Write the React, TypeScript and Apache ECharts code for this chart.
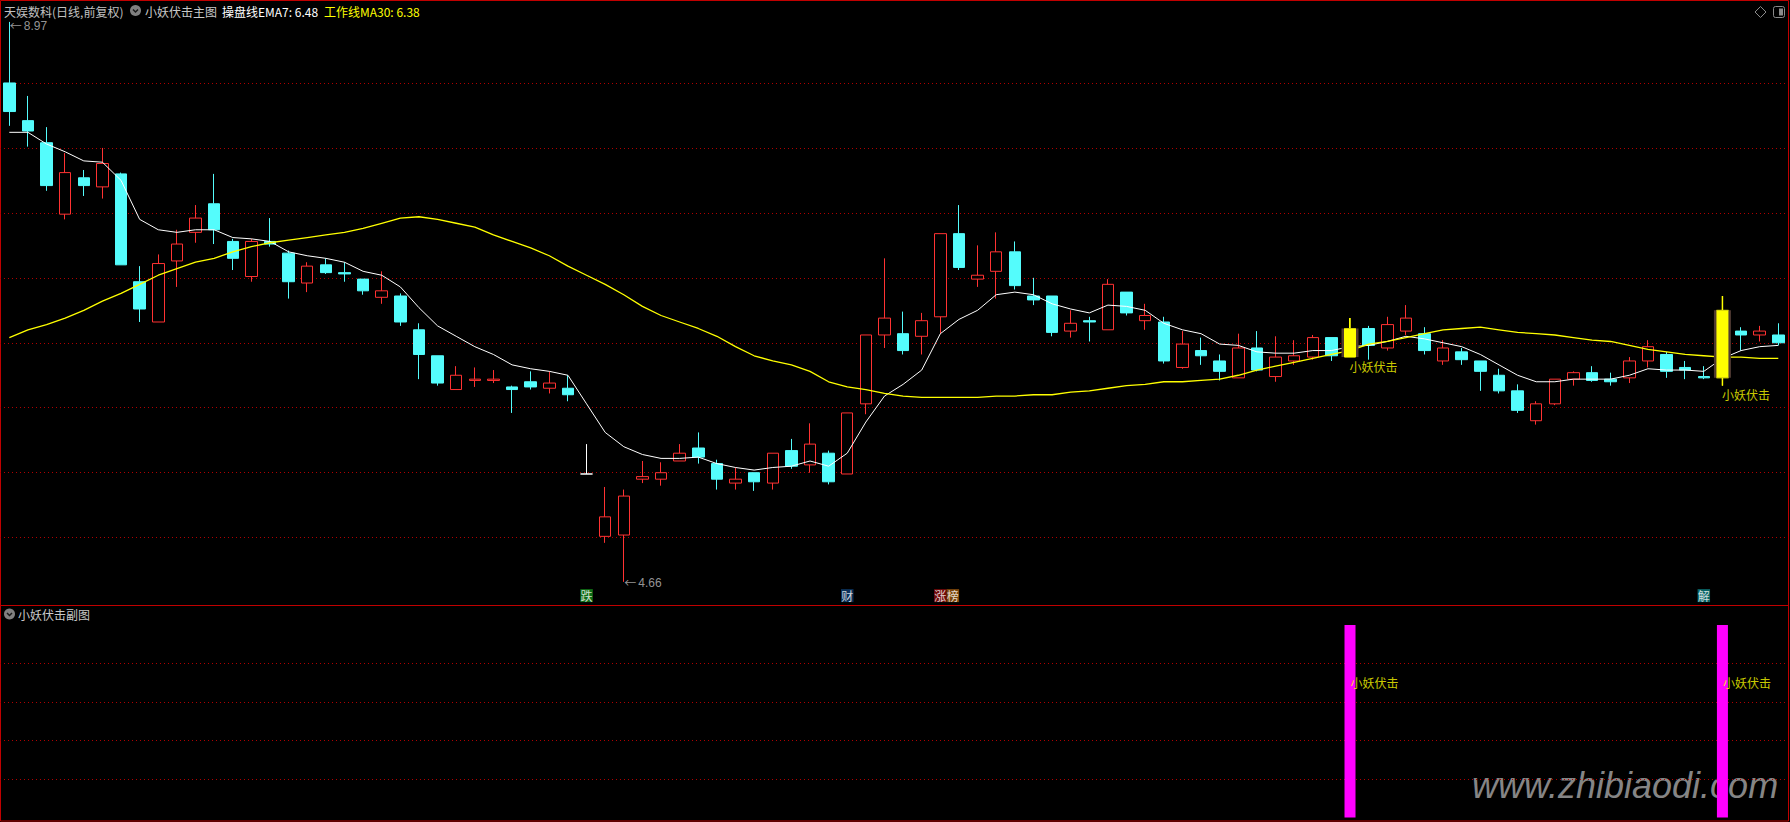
import React, { useEffect, useRef } from "react";
import * as echarts from "echarts";

// ---- data ----
const openP = [
  8.50, 8.21, 8.04, 7.49, 7.77, 7.70, 7.80, 6.97, 6.66, 7.13,
  7.35, 7.57, 7.28, 7.01, 7.28, 7.19, 6.96, 7.10, 7.04, 6.99,
  6.85, 6.86, 6.60, 6.40, 6.14, 6.21, 6.21, 6.16, 6.20, 6.15,
  6.15, 5.49, 5.01, 5.02, 5.45, 5.45, 5.59, 5.69, 5.57, 5.42,
  5.50, 5.42, 5.67, 5.56, 5.65, 5.49, 6.03, 6.56, 6.57, 6.55,
  6.70, 7.34, 6.99, 7.05, 7.20, 6.86, 6.86, 6.59, 6.67, 6.60,
  6.89, 6.67, 6.66, 6.31, 6.44, 6.36, 6.23, 6.46, 6.24, 6.36,
  6.39, 6.54, 6.39, 6.61, 6.46, 6.59, 6.57, 6.36, 6.43, 6.36,
  6.25, 6.13, 5.90, 6.03, 6.22, 6.27, 6.22, 6.23, 6.36, 6.41,
  6.31, 6.24, 6.23, 6.59, 6.56, 6.56,
];
const closeP = [
  8.28, 8.13, 7.71, 7.81, 7.71, 7.88, 7.10, 6.76, 7.11, 7.26,
  7.46, 7.37, 7.15, 7.28, 7.26, 6.97, 7.09, 7.04, 7.03, 6.90,
  6.90, 6.66, 6.41, 6.19, 6.25, 6.22, 6.22, 6.14, 6.16, 6.19,
  6.10, 5.49, 5.16, 5.32, 5.47, 5.50, 5.65, 5.62, 5.45, 5.45,
  5.43, 5.65, 5.55, 5.72, 5.43, 5.96, 6.56, 6.69, 6.44, 6.67,
  7.34, 7.08, 7.02, 7.20, 6.94, 6.83, 6.58, 6.65, 6.66, 6.95,
  6.73, 6.71, 6.36, 6.49, 6.40, 6.28, 6.46, 6.29, 6.39, 6.40,
  6.54, 6.40, 6.61, 6.48, 6.64, 6.69, 6.44, 6.46, 6.37, 6.28,
  6.13, 5.98, 6.03, 6.22, 6.27, 6.21, 6.20, 6.36, 6.47, 6.28,
  6.29, 6.23, 6.75, 6.56, 6.59, 6.50,
];
const lowP = [
  8.17, 8.01, 7.67, 7.45, 7.63, 7.61, 7.10, 6.66, 6.66, 6.93,
  7.27, 7.26, 7.06, 6.97, 7.24, 6.84, 6.89, 7.03, 6.97, 6.87,
  6.80, 6.63, 6.22, 6.17, 6.14, 6.16, 6.19, 5.96, 6.14, 6.11,
  6.05, 5.49, 4.96, 4.66, 5.42, 5.40, 5.59, 5.57, 5.37, 5.37,
  5.36, 5.37, 5.53, 5.50, 5.41, 5.49, 5.95, 6.46, 6.41, 6.41,
  6.57, 7.06, 6.93, 6.84, 6.91, 6.79, 6.55, 6.54, 6.51, 6.60,
  6.71, 6.60, 6.34, 6.30, 6.33, 6.21, 6.23, 6.28, 6.20, 6.33,
  6.37, 6.36, 6.39, 6.37, 6.44, 6.56, 6.41, 6.33, 6.33, 6.13,
  6.11, 5.96, 5.87, 6.02, 6.17, 6.20, 6.17, 6.19, 6.31, 6.23,
  6.22, 6.22, 6.17, 6.44, 6.51, 6.48,
];
const highP = [
  8.97, 8.40, 8.16, 7.96, 7.83, 8.00, 7.81, 7.09, 7.18, 7.37,
  7.56, 7.80, 7.30, 7.30, 7.46, 7.21, 7.12, 7.15, 7.12, 6.99,
  7.05, 6.88, 6.65, 6.40, 6.32, 6.31, 6.29, 6.17, 6.28, 6.28,
  6.25, 5.72, 5.39, 5.37, 5.59, 5.58, 5.72, 5.81, 5.60, 5.54,
  5.50, 5.65, 5.76, 5.88, 5.67, 5.96, 6.56, 7.15, 6.74, 6.73,
  7.34, 7.56, 7.25, 7.35, 7.28, 7.00, 6.86, 6.75, 6.70, 6.99,
  6.89, 6.80, 6.70, 6.59, 6.54, 6.41, 6.57, 6.59, 6.55, 6.52,
  6.56, 6.54, 6.69, 6.63, 6.70, 6.79, 6.62, 6.52, 6.46, 6.36,
  6.30, 6.18, 6.05, 6.22, 6.28, 6.32, 6.27, 6.39, 6.52, 6.43,
  6.36, 6.32, 6.86, 6.62, 6.63, 6.65,
];
const ema7 = [
  8.12, 8.12, 8.03, 7.97, 7.90, 7.89, 7.75, 7.45, 7.37, 7.35,
  7.37, 7.37, 7.31, 7.30, 7.28, 7.20, 7.17, 7.15, 7.12, 7.05,
  7.02, 6.93, 6.77, 6.63, 6.55, 6.47, 6.41, 6.33, 6.30, 6.28,
  6.25, 6.03, 5.81, 5.70, 5.64, 5.61, 5.61, 5.62, 5.57, 5.54,
  5.52, 5.54, 5.55, 5.59, 5.55, 5.65, 5.89, 6.09, 6.18, 6.29,
  6.57, 6.68, 6.75, 6.87, 6.89, 6.87, 6.80, 6.76, 6.73, 6.79,
  6.78, 6.75, 6.65, 6.60, 6.57, 6.49, 6.48, 6.43, 6.42, 6.42,
  6.44, 6.44, 6.47, 6.48, 6.51, 6.55, 6.53, 6.50, 6.47, 6.41,
  6.33, 6.25, 6.20, 6.20, 6.22, 6.22, 6.22, 6.25, 6.30, 6.29,
  6.29, 6.28, 6.38, 6.44, 6.47, 6.48,
];
const ma30 = [
  6.54, 6.60, 6.64, 6.69, 6.75, 6.82, 6.88, 6.95, 7.02, 7.07,
  7.12, 7.15, 7.20, 7.24, 7.27, 7.29, 7.31, 7.33, 7.35, 7.38,
  7.42, 7.46, 7.47, 7.45, 7.42, 7.39, 7.33, 7.28, 7.23, 7.17,
  7.09, 7.02, 6.95, 6.87, 6.78, 6.71, 6.66, 6.61, 6.55, 6.47,
  6.40, 6.36, 6.33, 6.28, 6.20, 6.16, 6.14, 6.11, 6.09, 6.08,
  6.08, 6.08, 6.08, 6.09, 6.09, 6.10, 6.10, 6.12, 6.13, 6.15,
  6.17, 6.18, 6.20, 6.20, 6.21, 6.22, 6.25, 6.29, 6.32, 6.35,
  6.38, 6.41, 6.44, 6.49, 6.51, 6.54, 6.57, 6.60, 6.61, 6.62,
  6.60, 6.58, 6.57, 6.56, 6.54, 6.52, 6.51, 6.48, 6.45, 6.43,
  6.41, 6.40, 6.39, 6.39, 6.38, 6.38,
];
const flatIdx = [31]; // white (unchanged) candle
const signalIdx = [72, 92];
const signalText = "小妖伏击";
const events = [
  { idx: 31, text: "跌" },
  { idx: 45, text: "财" },
  { idx: 50, text: "涨榜" },
  { idx: 91, text: "解" },
];
const stockTitle = "天娱数科(日线,前复权)";
const mainTitle = "小妖伏击主图";
const subTitle = "小妖伏击副图";
const priceTicks = { min: 4.5, max: 9.0, step: 0.5 };
const subTicks = { min: 0, max: 1, step: 0.2 };
const subLabelLevel = 0.7;

// ---- styles ----
const W = 1790;
const H = 822;
const CJK = "'Noto Sans CJK SC', sans-serif";
const RED = "#ff3232";
const CYAN = "#54fcfc";
const GRID_RED = "#b00000";
const FRAME_RED = "#c00000";
const CLEAR = "rgba(0,0,0,0)";
const markerBg: Record<string, string> = {
  跌: "#13881a",
  财: "#0e3c6e",
  涨: "#8c0d0d",
  榜: "#9a560c",
  解: "#0b7d80",
};
const markerKey: Record<string, string> = { 跌: "m0", 财: "m1", 涨: "m2", 榜: "m3", 解: "m4" };

export default function App() {
  const ref = useRef<HTMLDivElement>(null);

  useEffect(() => {
    const el = ref.current;
    if (!el) return;
    const chart = echarts.init(el, null, { renderer: "svg", width: W, height: H });

    const cats = openP.map((_, i) => String(i));
    const candleData = openP.map((o, i) => {
      const v = [o, closeP[i], lowP[i], highP[i]];
      if (flatIdx.includes(i)) {
        return { value: v, itemStyle: { color: "#ffffff", color0: "#ffffff", borderColor: "#ffffff", borderColor0: "#ffffff" } };
      }
      if (signalIdx.includes(i)) {
        return { value: v, itemStyle: { color: "#ffff00", color0: "#ffff00", borderColor: "#ffff00", borderColor0: "#ffff00" } };
      }
      return v;
    });

    let hi = 0;
    let lo = 0;
    highP.forEach((v, i) => { if (v > highP[hi]) hi = i; });
    lowP.forEach((v, i) => { if (v < lowP[lo]) lo = i; });

    const rich: Record<string, any> = {};
    Object.keys(markerBg).forEach((ch) => {
      rich[markerKey[ch]] = {
        backgroundColor: markerBg[ch],
        color: "#ffffff",
        fontSize: 12,
        fontFamily: CJK,
        lineHeight: 13,
        height: 13,
        width: 12.5,
        align: "center",
        verticalAlign: "middle",
      };
    });

    const gridLeft = -0.9;
    const gridWidth = 1788.5;

    const hiddenSym = {
      type: "scatter",
      silent: true,
      symbol: "circle",
      symbolSize: 1,
      itemStyle: { color: CLEAR, borderWidth: 0 },
      z: 5,
    };

    const option: any = {
      animation: false,
      backgroundColor: "#000000",
      grid: [
        { left: gridLeft, width: gridWidth, top: 18, height: 584.6 },
        { left: gridLeft, width: gridWidth, top: 625, height: 192.5 },
      ],
      xAxis: [0, 1].map((g) => ({
        type: "category",
        gridIndex: g,
        data: cats,
        boundaryGap: true,
        axisLine: { show: false },
        axisTick: { show: false },
        axisLabel: { show: false },
        splitLine: { show: false },
      })),
      yAxis: [
        {
          type: "value",
          gridIndex: 0,
          min: priceTicks.min,
          max: priceTicks.max,
          interval: priceTicks.step,
          axisLine: { show: false },
          axisTick: { show: false },
          axisLabel: { show: false },
          splitLine: {
            show: true,
            showMinLine: false,
            showMaxLine: false,
            lineStyle: { color: GRID_RED, type: [1, 3], width: 1 },
          },
        },
        {
          type: "value",
          gridIndex: 1,
          min: subTicks.min,
          max: subTicks.max,
          interval: subTicks.step,
          axisLine: { show: false },
          axisTick: { show: false },
          axisLabel: { show: false },
          splitLine: {
            show: true,
            showMinLine: false,
            showMaxLine: false,
            lineStyle: { color: GRID_RED, type: [1, 3], width: 1 },
          },
        },
      ],
      series: [
        {
          type: "candlestick",
          xAxisIndex: 0,
          yAxisIndex: 0,
          data: candleData,
          barWidth: 12,
          z: 2,
          silent: true,
          itemStyle: {
            color: "#000000",
            color0: CYAN,
            borderColor: RED,
            borderColor0: CYAN,
            borderWidth: 1,
          },
        },
        {
          type: "line",
          xAxisIndex: 0,
          yAxisIndex: 0,
          data: ema7,
          symbol: "none",
          z: 3,
          silent: true,
          lineStyle: { color: "#ffffff", width: 1 },
        },
        {
          type: "line",
          xAxisIndex: 0,
          yAxisIndex: 0,
          data: ma30,
          symbol: "none",
          z: 3,
          silent: true,
          lineStyle: { color: "#ffff00", width: 1.3 },
        },
        {
          type: "custom",
          xAxisIndex: 0,
          yAxisIndex: 0,
          z: 4,
          silent: true,
          data: signalIdx.map((i) => [i, openP[i], closeP[i], lowP[i], highP[i]]),
          encode: { x: 0, y: [1, 2, 3, 4] },
          renderItem: (params: any, api: any) => {
            const i = api.value(0);
            const pO = api.coord([i, api.value(1)]);
            const pC = api.coord([i, api.value(2)]);
            const pL = api.coord([i, api.value(3)]);
            const pH = api.coord([i, api.value(4)]);
            const top = Math.min(pO[1], pC[1]);
            const bot = Math.max(pO[1], pC[1]);
            const outer = 17;
            const inner = 12;
            return {
              type: "group",
              children: [
                {
                  type: "line",
                  shape: { x1: pH[0], y1: pH[1], x2: pL[0], y2: pL[1] },
                  style: { stroke: "#ffff00", lineWidth: 1.5 },
                },
                {
                  type: "rect",
                  shape: { x: pO[0] - outer / 2, y: top, width: outer, height: bot - top },
                  style: { fill: "#4f3a32" },
                },
                {
                  type: "rect",
                  shape: { x: pO[0] - inner / 2, y: top, width: inner, height: bot - top },
                  style: { fill: "#ffff00" },
                },
              ],
            };
          },
        },
        {
          ...hiddenSym,
          xAxisIndex: 0,
          yAxisIndex: 0,
          data: signalIdx.map((i) => [i, lowP[i]]),
          label: {
            show: true,
            position: "right",
            distance: 0,
            offset: [-1, 9],
            formatter: signalText,
            color: "#ffff00",
            fontSize: 12,
            fontFamily: CJK,
          },
        },
        {
          ...hiddenSym,
          xAxisIndex: 0,
          yAxisIndex: 0,
          data: [
            { value: [hi, highP[hi]], label: { offset: [0, 4] } },
            { value: [lo, lowP[lo]], label: { offset: [0, 1] } },
          ],
          label: {
            show: true,
            position: "right",
            distance: 0,
            formatter: (p: any) => "{a|←}{b|" + Number(p.value[1]).toFixed(2) + "}",
            rich: {
              a: { color: "#bdbdbd", fontSize: 12, fontFamily: CJK, width: 14 },
              b: { color: "#bdbdbd", fontSize: 12, fontFamily: "'Liberation Sans', sans-serif" },
            },
          },
        },
        {
          ...hiddenSym,
          xAxisIndex: 0,
          yAxisIndex: 0,
          data: events.map((e) => ({
            value: [e.idx, priceTicks.min],
            label: {
              formatter: e.text.split("").map((ch) => `{${markerKey[ch]}|${ch}}`).join(""),
              offset: [(e.text.length - 1) * 6.25, 0],
            },
          })),
          label: {
            show: true,
            position: "top",
            distance: 0,
            rich,
          },
        },
        {
          type: "bar",
          xAxisIndex: 1,
          yAxisIndex: 1,
          silent: true,
          barWidth: 11,
          itemStyle: { color: "#ff00ff" },
          data: cats.map((_, i) => (signalIdx.includes(i) ? 1 : "-")),
        },
        {
          ...hiddenSym,
          xAxisIndex: 1,
          yAxisIndex: 1,
          data: signalIdx.map((i) => [i, subLabelLevel]),
          label: {
            show: true,
            position: "right",
            distance: 0,
            formatter: signalText,
            color: "#ffff00",
            fontSize: 12,
            fontFamily: CJK,
          },
        },
      ],
      graphic: [
        {
          type: "rect",
          silent: true,
          shape: { x: 0.5, y: 0.5, width: 1788, height: 820.5 },
          style: { fill: "none", stroke: FRAME_RED, lineWidth: 1 },
        },
        {
          type: "line",
          silent: true,
          shape: { x1: 0, y1: 605.5, x2: 1789, y2: 605.5 },
          style: { stroke: FRAME_RED, lineWidth: 1 },
        },
        {
          type: "text",
          x: 4,
          y: 11,
          style: { text: stockTitle, fill: "#c0c0c0", font: `12px ${CJK}`, verticalAlign: "middle" },
        },
        { type: "circle", shape: { cx: 135.5, cy: 10.5, r: 5.5 }, style: { fill: "#808080" } },
        {
          type: "polyline",
          shape: { points: [[133, 9.5], [135.5, 12], [138, 9.5]] },
          style: { stroke: "#1a1a1a", lineWidth: 1.5, fill: "none" },
        },
        {
          type: "text",
          x: 145,
          y: 11,
          style: { text: mainTitle, fill: "#c8c8c8", font: `12px ${CJK}`, verticalAlign: "middle" },
        },
        {
          type: "text",
          x: 222,
          y: 11,
          style: {
            text: `操盘线EMA7: ${ema7[ema7.length - 1].toFixed(2)}`,
            fill: "#ffffff",
            font: `12px ${CJK}`,
            verticalAlign: "middle",
          },
        },
        {
          type: "text",
          x: 324,
          y: 11,
          style: {
            text: `工作线MA30: ${ma30[ma30.length - 1].toFixed(2)}`,
            fill: "#ffff00",
            font: `12px ${CJK}`,
            verticalAlign: "middle",
          },
        },
        { type: "circle", shape: { cx: 9.5, cy: 614, r: 5.5 }, style: { fill: "#808080" } },
        {
          type: "polyline",
          shape: { points: [[7, 613], [9.5, 615.5], [12, 613]] },
          style: { stroke: "#1a1a1a", lineWidth: 1.5, fill: "none" },
        },
        {
          type: "text",
          x: 18,
          y: 614,
          style: { text: subTitle, fill: "#c8c8c8", font: `12px ${CJK}`, verticalAlign: "middle" },
        },
        {
          type: "polygon",
          shape: { points: [[1760.5, 6.5], [1766, 12], [1760.5, 17.5], [1755, 12]] },
          style: { fill: "none", stroke: "#8a8a8a", lineWidth: 1 },
        },
        {
          type: "rect",
          shape: { x: 1773.5, y: 6.5, width: 11, height: 11, r: 2 },
          style: { fill: "none", stroke: "#8a8a8a", lineWidth: 1 },
        },
        {
          type: "rect",
          shape: { x: 1779, y: 8.5, width: 4, height: 7 },
          style: { fill: "#8a8a8a" },
        },
        {
          type: "text",
          x: 1472,
          y: 785,
          silent: true,
          style: {
            text: "www.zhibiaodi.com",
            fill: "#858585",
            font: "italic 36px 'Liberation Sans', sans-serif",
            verticalAlign: "middle",
            shadowBlur: 6,
            shadowColor: "rgba(60,60,60,0.9)",
          },
        },
      ],
    };

    chart.setOption(option);
    return () => chart.dispose();
  }, []);

  return (
    <div
      ref={ref}
      style={{ position: "fixed", left: 0, top: 0, width: W, height: H, background: "#000000" }}
    />
  );
}
